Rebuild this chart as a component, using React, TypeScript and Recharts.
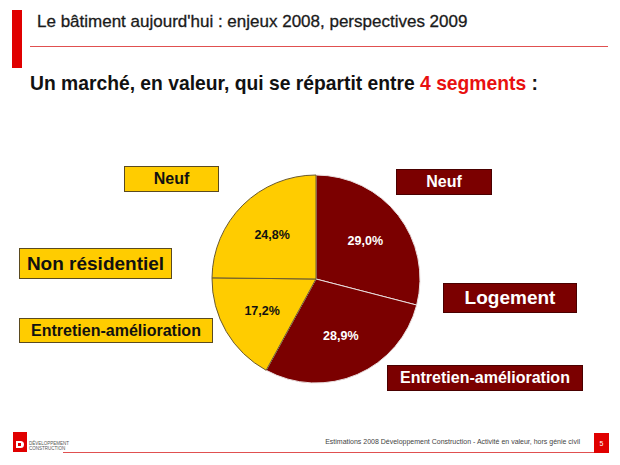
import { PieChart, Pie, Cell } from 'recharts';

// Données (part du marché en valeur, %)
const segments = [
  'Logement - Neuf',
  'Logement - Entretien-amélioration',
  'Non résidentiel - Entretien-amélioration',
  'Non résidentiel - Neuf',
];
const shares = [29.0, 28.9, 17.2, 24.8];
const sliceColors = ['#7b0000', '#7b0000', '#ffcc00', '#ffcc00'];
const sliceStrokes = ['#e9dede', '#e9dede', '#6a5a30', '#6a5a30'];
const labelColors = ['#ffffff', '#ffffff', '#111111', '#111111'];

const pieData = segments.map((name, i) => ({ name, value: shares[i] }));

const FONT = '"Liberation Sans", Arial, sans-serif';
const RED = '#7b0000';
const YELLOW = '#ffcc00';

const RAD = Math.PI / 180;

const renderLabel = (props: any) => {
  const { cx, cy, midAngle, outerRadius, value, index } = props;
  const r = outerRadius * 0.6;
  const x = cx + r * Math.cos(-midAngle * RAD);
  const y = cy + r * Math.sin(-midAngle * RAD);
  return (
    <text
      x={x}
      y={y}
      fill={labelColors[index]}
      textAnchor="middle"
      dominantBaseline="central"
      fontFamily={FONT}
      fontSize={12.5}
      fontWeight={600}
    >
      {value.toFixed(1).replace('.', ',') + '%'}
    </text>
  );
};

const Box = ({ text, left, top, width, height, fontSize, dark }: any) => (
  <div
    style={{
      position: 'absolute',
      left,
      top,
      width,
      height,
      boxSizing: 'border-box',
      background: dark ? RED : YELLOW,
      border: dark ? '1px solid #4a0000' : '1px solid #5a4a20',
      color: dark ? '#fff' : '#111',
      fontFamily: FONT,
      fontWeight: 'bold',
      fontSize,
      display: 'flex',
      alignItems: 'center',
      justifyContent: 'center',
      whiteSpace: 'nowrap',
    }}
  >
    {text}
  </div>
);

const App = () => {
  return (
    <div
      style={{
        position: 'absolute',
        left: 0,
        top: 0,
        width: 620,
        height: 465,
        background: '#fff',
        overflow: 'hidden',
        fontFamily: FONT,
      }}
    >
      {/* En-tête */}
      <div style={{ position: 'absolute', left: 12, top: 10, width: 10, height: 58, background: '#e00000' }} />
      <div
        style={{
          position: 'absolute',
          left: 37,
          top: 12,
          fontSize: 17,
          color: '#1a1a1a',
          whiteSpace: 'nowrap',
          WebkitTextStroke: '0.3px #1a1a1a',
        }}
      >
        Le bâtiment aujourd'hui : enjeux 2008, perspectives 2009
      </div>
      <div style={{ position: 'absolute', left: 30, top: 46, width: 578, height: 1, background: '#e05050' }} />
      <div
        style={{
          position: 'absolute',
          left: 30,
          top: 73,
          fontSize: 19.3,
          fontWeight: 'bold',
          color: '#111',
          whiteSpace: 'nowrap',
        }}
      >
        Un marché, en valeur, qui se répartit entre <span style={{ color: '#e81010' }}>4 segments</span> :
      </div>

      {/* Camembert */}
      <div style={{ position: 'absolute', left: 0, top: 0 }}>
        <PieChart width={620} height={465} margin={{ top: 0, right: 0, bottom: 0, left: 0 }}>
          <Pie
            data={pieData}
            dataKey="value"
            nameKey="name"
            cx={316}
            cy={279}
            outerRadius={104}
            startAngle={90}
            endAngle={-270}
            labelLine={false}
            label={renderLabel}
            isAnimationActive={false}
          >
            {pieData.map((entry, index) => (
              <Cell key={`cell-${index}`} fill={sliceColors[index]} stroke={sliceStrokes[index]} strokeWidth={1} />
            ))}
          </Pie>
        </PieChart>
      </div>

      {/* Étiquettes */}
      <Box text="Neuf" left={124} top={166} width={95} height={26} fontSize={16} />
      <Box text="Non résidentiel" left={19} top={248} width={153} height={31} fontSize={19} />
      <Box text="Entretien-amélioration" left={19} top={318} width={194} height={25} fontSize={16} />
      <Box text="Neuf" left={396} top={169} width={96} height={26} fontSize={16} dark />
      <Box text="Logement" left={443} top={283} width={134} height={30} fontSize={19} dark />
      <Box text="Entretien-amélioration" left={387} top={365} width={196} height={26} fontSize={16} dark />

      {/* Pied de page */}
      <div style={{ position: 'absolute', left: 13, top: 432, width: 14, height: 20, background: '#e00000' }}>
        <div style={{ position: 'absolute', left: 3, top: 9, width: 8, height: 7, background: '#fff', borderRadius: '0 4px 4px 0' }} />
        <div style={{ position: 'absolute', left: 5, top: 11, width: 3, height: 3, background: '#e00000' }} />
      </div>
      <div
        style={{
          position: 'absolute',
          left: 29,
          top: 441,
          fontSize: 4.5,
          lineHeight: '5px',
          color: '#555',
          whiteSpace: 'nowrap',
        }}
      >
        DÉVELOPPEMENT
        <br />
        CONSTRUCTION
      </div>
      <div style={{ position: 'absolute', left: 63, top: 452, width: 545, height: 1, background: '#e05050' }} />
      <div
        style={{
          position: 'absolute',
          right: 620 - 580,
          top: 438,
          fontSize: 7,
          color: '#444',
          whiteSpace: 'nowrap',
        }}
      >
        Estimations 2008 Développement Construction - Activité en valeur, hors génie civil
      </div>
      <div
        style={{
          position: 'absolute',
          left: 594,
          top: 433,
          width: 15,
          height: 20,
          background: '#e00000',
          color: '#fff',
          fontSize: 7,
          display: 'flex',
          alignItems: 'center',
          justifyContent: 'center',
        }}
      >
        5
      </div>
    </div>
  );
};

export default App;
